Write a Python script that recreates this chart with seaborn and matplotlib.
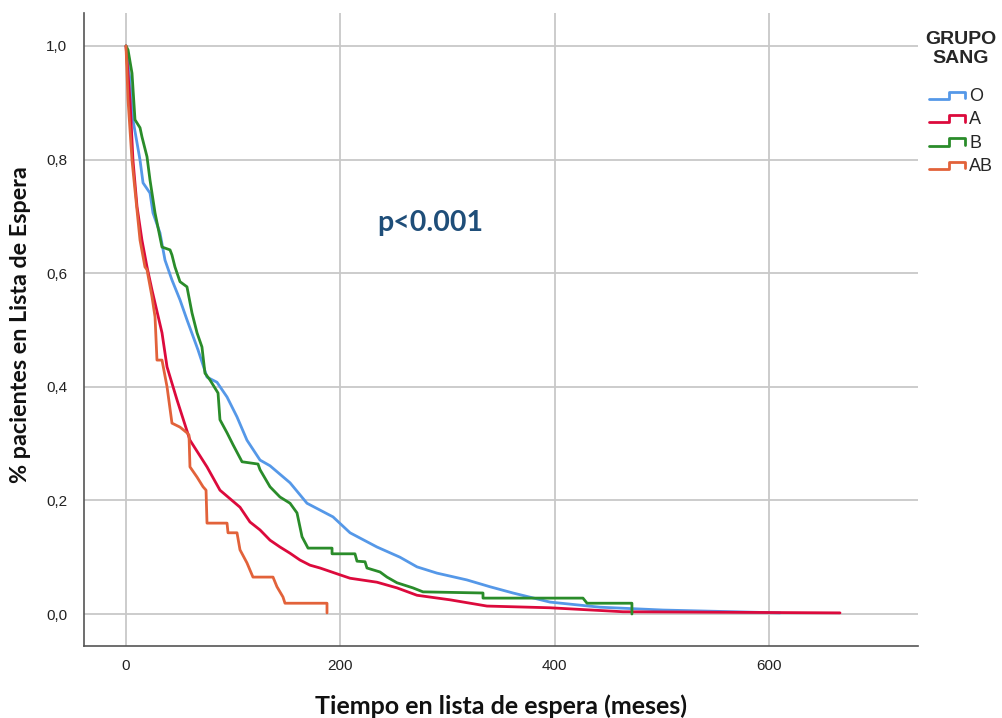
import pandas as pd
import matplotlib
matplotlib.use("Agg")
import matplotlib.pyplot as plt
import seaborn as sns
from matplotlib.lines import Line2D
from matplotlib.legend_handler import HandlerLine2D

# Kaplan-Meier curves (time in months, survival fraction)
# points follow the drawn curve; repeated times mark the vertical drops
t_O = [0, 3.7, 6.5, 13.1, 15.9, 22.4, 25.2, 31.7, 36.4, 42.9, 50.4, 56.9, 67.2, 75.6, 84.9,
       94.3, 103.6, 112.9, 125.1, 134.4, 153.1, 168.9, 193.2, 209.1, 234.2, 255.7, 271.6,
       290.2, 318.2, 339.7, 361.2, 395.7, 442.4, 501.2, 610.4]
s_O = [1.0, 0.940, 0.870, 0.799, 0.759, 0.741, 0.706, 0.671, 0.623, 0.588, 0.553, 0.518, 0.465,
       0.417, 0.408, 0.382, 0.347, 0.306, 0.271, 0.261, 0.231, 0.195, 0.171, 0.143, 0.118,
       0.100, 0.083, 0.072, 0.060, 0.048, 0.037, 0.021, 0.012, 0.007, 0.002]

t_A = [0, 0.9, 3.7, 6.5, 10.3, 14.9, 19.6, 24.3, 33.6, 38.3, 47.6, 59.7, 75.6, 87.7, 106.4,
       115.7, 125.1, 134.4, 143.7, 153.1, 162.4, 171.7, 181.1, 199.7, 209.1, 234.2, 252.9,
       271.6, 302.4, 336.9, 395.7, 463.8, 666.4]
s_A = [1.0, 0.975, 0.905, 0.799, 0.717, 0.658, 0.611, 0.570, 0.495, 0.435, 0.377, 0.306, 0.259,
       0.218, 0.188, 0.162, 0.148, 0.130, 0.118, 0.107, 0.095, 0.086, 0.081, 0.069, 0.063,
       0.056, 0.046, 0.033, 0.025, 0.014, 0.011, 0.004, 0.002]

t_B = [0, 1.9, 5.6, 8.4, 13.1, 14.9, 19.6, 22.4, 27.1, 33.6, 41.1, 42.9, 45.7, 50.4, 56.9,
       61.6, 66.3, 70.9, 73.7, 78.4, 85.9, 87.7, 94.3, 99.9, 108.3, 123.2, 125.1, 134.4,
       143.7, 153.1, 159.6, 164.3, 169.9, 192.3, 192.3, 213.7, 215.6, 223.1, 224.9, 237.1,
       243.6, 252.9, 267.8, 277.2, 333.2, 333.2, 426.5, 430.3, 472.2, 472.2]
s_B = [1.0, 0.993, 0.952, 0.870, 0.856, 0.840, 0.805, 0.764, 0.706, 0.646, 0.641, 0.632, 0.611,
       0.585, 0.576, 0.530, 0.495, 0.470, 0.424, 0.412, 0.389, 0.342, 0.319, 0.298, 0.268,
       0.264, 0.254, 0.224, 0.206, 0.195, 0.178, 0.136, 0.116, 0.116, 0.106, 0.106, 0.093,
       0.092, 0.081, 0.074, 0.065, 0.055, 0.046, 0.039, 0.037, 0.028, 0.028, 0.019, 0.019, 0.0]

t_AB = [0, 1.9, 5.6, 8.4, 13.1, 17.7, 19.6, 24.3, 27.1, 28.9, 33.6, 38.3, 42.9, 50.4, 56.9,
        58.8, 59.7, 66.3, 71.9, 74.7, 75.6, 94.3, 95.2, 103.6, 106.4, 112.9, 118.5, 137.2,
        140.9, 146.5, 148.4, 187.6, 187.6]
s_AB = [1.0, 0.905, 0.799, 0.746, 0.658, 0.611, 0.606, 0.558, 0.523, 0.447, 0.447, 0.400,
        0.336, 0.329, 0.319, 0.315, 0.259, 0.241, 0.224, 0.218, 0.160, 0.160, 0.143, 0.143,
        0.113, 0.090, 0.065, 0.065, 0.048, 0.030, 0.019, 0.019, 0.002]

grupos = ["O", "A", "B", "AB"]
colores = ["#5598E8", "#DC0A3C", "#2A8C2A", "#E2623A"]
x_ticks = [0, 200, 400, 600]
y_ticks = [0.0, 0.2, 0.4, 0.6, 0.8, 1.0]

frames = []
for g, t, s in zip(grupos, [t_O, t_A, t_B, t_AB], [s_O, s_A, s_B, s_AB]):
    frames.append(pd.DataFrame({"tiempo": t, "surv": s, "grupo": g}))
df = pd.concat(frames, ignore_index=True)

sns.set_style("whitegrid")
plt.rcParams["font.family"] = ["Liberation Sans", "DejaVu Sans"]

fig = plt.figure(figsize=(10.03, 7.18), dpi=100)
ax = fig.add_axes([84 / 1003, 1 - 646 / 718, (918 - 84) / 1003, (646 - 13) / 718])

sns.lineplot(data=df, x="tiempo", y="surv", hue="grupo", hue_order=grupos,
             palette=colores, estimator=None, sort=False,
             linewidth=2.0, legend=False, ax=ax)

ax.set_xlim(-39.2, 739.2)
ax.set_ylim(-0.0563, 1.058)
ax.set_xticks(x_ticks)
ax.set_yticks(y_ticks)
ax.set_xticklabels([str(v) for v in x_ticks])
ax.set_yticklabels([f"{v:.1f}".replace(".", ",") for v in y_ticks])
ax.tick_params(axis="both", length=0, labelsize=11, colors="#222222")
ax.tick_params(axis="x", pad=9)
ax.tick_params(axis="y", pad=12)
ax.grid(True, color="#C8C8C8", linewidth=1.3)

for side in ["top", "right"]:
    ax.spines[side].set_visible(False)
for side in ["left", "bottom"]:
    ax.spines[side].set_color("#555555")
    ax.spines[side].set_linewidth(1.2)

ax.set_xlabel("Tiempo en lista de espera (meses)", fontsize=18, fontweight="bold",
              family=["Lato", "DejaVu Sans"], color="#111111")
ax.xaxis.set_label_coords(0.5, -(706 - 646) / 633)
ax.xaxis.label.set_va("center")
ax.set_ylabel("% pacientes en Lista de Espera", fontsize=16.8, fontweight="bold",
              family=["Lato", "DejaVu Sans"], color="#111111")
ax.yaxis.set_label_coords(-(84 - 20) / 834, (646 - 325) / 633)
ax.yaxis.label.set_va("center")

ax.text(283.7, 0.688, "p<0.001", fontsize=20.5, fontweight="bold", color="#1F4E79",
        ha="center", va="center", family=["Lato", "DejaVu Sans"])


class StepHandler(HandlerLine2D):
    def create_artists(self, legend, orig_handle, xdescent, ydescent, width, height,
                       fontsize, trans):
        x0, x1 = -xdescent, -xdescent + width
        xm = x0 + width * 0.55
        ylo = -ydescent + height * 0.15
        yhi = -ydescent + height * 0.75
        line = Line2D([x0, xm, xm, x1, x1], [ylo, ylo, yhi, yhi, ylo * 0.9 + yhi * 0.1],
                      color=orig_handle.get_color(), linewidth=2.0)
        line.set_transform(trans)
        return [line]


handles = [Line2D([], [], color=c) for c in colores]
leg = fig.legend(handles, grupos, loc="upper center", bbox_to_anchor=(961 / 1003, 1 - 18 / 718),
                 frameon=False, fontsize=13, handlelength=2.0, handletextpad=0.25,
                 labelspacing=0.35, borderpad=0.2, title="GRUPO\nSANG",
                 handler_map={Line2D: StepHandler()})
leg.get_title().set_fontweight("bold")
leg.get_title().set_fontsize(14)
leg.get_title().set_multialignment("center")
leg._legend_box.align = "center"
leg._legend_box.sep = 15

fig.savefig("out.png", dpi=100)
